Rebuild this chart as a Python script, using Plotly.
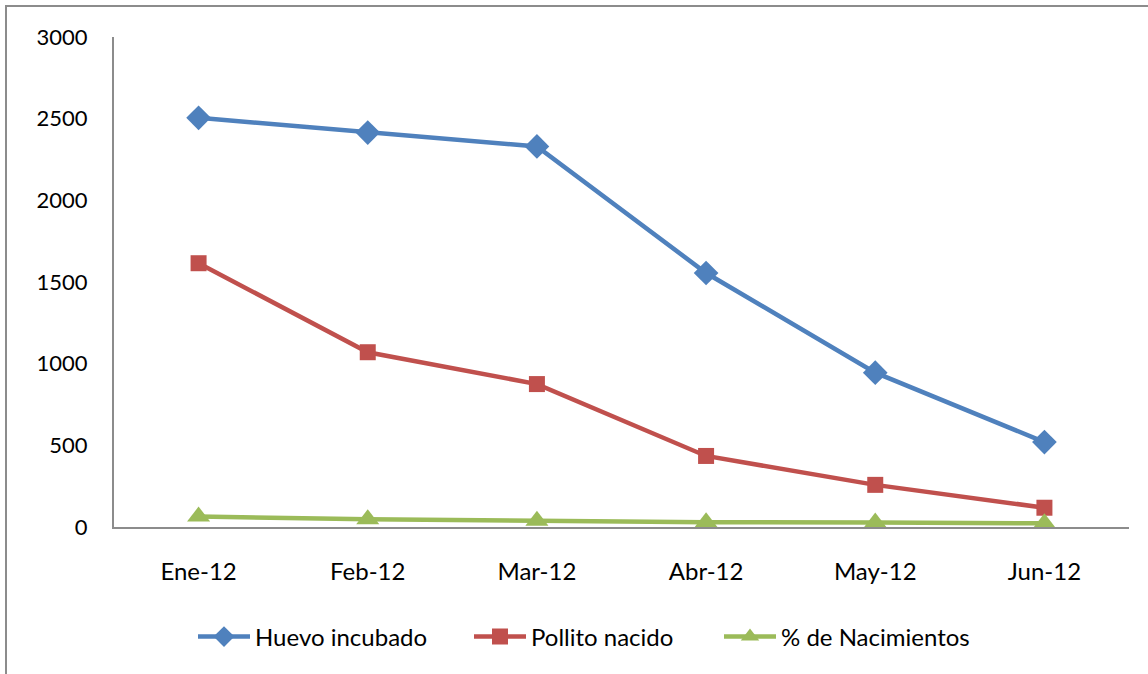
import plotly.graph_objects as go

months = ["Ene-12", "Feb-12", "Mar-12", "Abr-12", "May-12", "Jun-12"]
huevo_incubado = [2505, 2415, 2330, 1555, 945, 520]
pollito_nacido = [1615, 1070, 875, 435, 258, 118]
pct_nacimientos = [64, 47, 38, 29, 27, 23]
y_ticks = [0, 500, 1000, 1500, 2000, 2500, 3000]

PL, PR, PT, PB = 114, 1129, 37, 527


def px_x(p):
    return (p - PL) / (PR - PL)


def px_y(p):
    return (PB - p) / (PB - PT)


fig = go.Figure()
fig.add_trace(go.Scatter(x=months, y=huevo_incubado, name="Huevo incubado", mode="lines+markers",
                         line=dict(color="#4F81BD", width=4.5),
                         marker=dict(symbol="diamond", size=19, color="#4F81BD"),
                         legend="legend"))
fig.add_trace(go.Scatter(x=months, y=pollito_nacido, name="Pollito nacido", mode="lines+markers",
                         line=dict(color="#C0504D", width=4.5),
                         marker=dict(symbol="square", size=16, color="#C0504D"),
                         legend="legend2"))
fig.add_trace(go.Scatter(x=months, y=pct_nacimientos, name="% de Nacimientos", mode="lines+markers",
                         line=dict(color="#9BBB59", width=4.5),
                         marker=dict(symbol="triangle-up", size=20, color="#9BBB59"),
                         legend="legend3"))

leg_common = dict(orientation="h", xanchor="left", yanchor="middle", y=px_y(637),
                  font=dict(size=24), itemwidth=52, bgcolor="rgba(0,0,0,0)")

fig.update_layout(
    width=1148, height=674,
    margin=dict(l=PL, r=1148 - PR, t=PT, b=674 - PB),
    paper_bgcolor="white", plot_bgcolor="white",
    font=dict(family="Lato, Carlito, Calibri, sans-serif", size=24, color="black"),
    showlegend=True,
    legend=dict(x=px_x(193), **leg_common),
    legend2=dict(x=px_x(469), **leg_common),
    legend3=dict(x=px_x(719), **leg_common),
    xaxis=dict(type="category", range=[-0.5, 5.5], showgrid=False, zeroline=False,
               showline=True, linecolor="#8C8C8C", linewidth=2, ticks="",
               ticklabelstandoff=22, tickfont=dict(size=24)),
    yaxis=dict(range=[0, 3000], tickvals=y_ticks, showgrid=False, zeroline=False,
               showline=True, linecolor="#8C8C8C", linewidth=2, ticks="",
               ticklabelstandoff=20, tickfont=dict(size=22)),
    shapes=[dict(type="rect", xref="paper", yref="paper",
                 x0=px_x(6), x1=1.1, y0=-0.5, y1=px_y(6),
                 line=dict(color="#8C8C8C", width=2), layer="below")],
)

fig.write_html("out.html", config={"displayModeBar": False},
               post_script="document.body.style.margin='0';")
